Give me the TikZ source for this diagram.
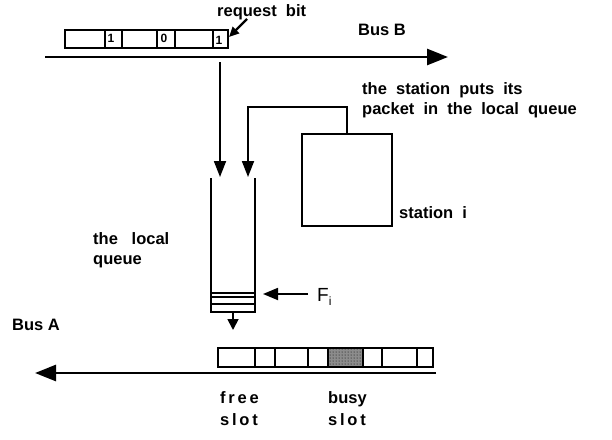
\documentclass[tikz,border=0pt]{standalone}
\usepackage{fontspec}
\setmainfont{Liberation Sans}
\usetikzlibrary{arrows.meta,patterns}
\begin{document}
\begin{tikzpicture}[x=1pt,y=-1pt,
  lbl/.style={font=\fontsize{16.5}{20}\selectfont\bfseries, inner sep=0pt, align=left},
  bit/.style={font=\fontsize{12}{12}\selectfont\bfseries, inner sep=0pt},
  bus/.style={line width=2.6pt, -{Triangle[length=21pt,width=16pt]}},
  arr/.style={line width=1.8pt, -{Triangle[length=16pt,width=12pt]}},
  box/.style={draw, line width=1.8pt},
  cell/.style={line width=1.6pt}]
\useasboundingbox (0,0) rectangle (612,439);

% ---- Bus B ----
\coordinate (bbS) at (45,57);
\coordinate (bbE) at (448,57);
\draw[bus] (bbS) -- (bbE);
\node[lbl, anchor=west] (busB) at (358,30) {Bus B};

% request bits
\draw[cell] (65,30) rectangle (228,48);
\foreach \x in {105,122,157,175,213} \draw[cell] (\x,30) -- (\x,48);
\node[bit] (b1) at (111,38) {1};
\node[bit] (b2) at (164,38) {0};
\node[bit] (b3) at (219,40) {1};
\node[lbl, anchor=west] (req) at (217,12) {request\ \ bit};
\coordinate (reqTip) at (229,37);
\draw[line width=2.4pt, -{Triangle[length=10pt,width=9pt]}] (247,19) -- (reqTip);

% ---- station ----
\node[box, minimum width=90pt, minimum height=92pt, inner sep=0pt, anchor=north west] (st) at (301,133) {};
\node[lbl, anchor=west] (stl) at (399,213) {station\ \ i};
\node[lbl, anchor=west] (puts) at (362,100) {the\ \ station\ \ puts\ \ its\\packet\ \ in\ \ the\ \ local\ \ queue};

% ---- queue ----
\coordinate (qTL) at (211,178);
\coordinate (qTR) at (255,178);
\coordinate (qBL) at (211,312);
\coordinate (qBR) at (255,312);
\draw[line width=1.8pt] (qTL) -- (qBL) -- (qBR) -- (qTR);
\draw[line width=1.5pt] (211,293) -- (255,293) (211,297) -- (255,297) (211,304) -- (255,304);
\node[lbl, anchor=west] (lq) at (93,250) {the\ \ \ local\\queue};

% arrows into queue
\coordinate (a1s) at (220,62);
\coordinate (a1e) at (220,177);
\draw[arr] (a1s) -- (a1e);
\coordinate (a2e) at (248,177);
\draw[arr] (st.north -| 347,133) -- (347,107) -- (248,107) -- (a2e);

% F_i
\node[font=\fontsize{19}{19}\selectfont, inner sep=0pt, anchor=west] (F) at (317,297) {F\raisebox{-4pt}{\fontsize{12}{12}\selectfont i}};
\draw[line width=1.8pt, -{Triangle[length=15pt,width=12pt]}] (308,294) -- (263,294);

% queue output arrow
\coordinate (qOut) at (233,330);
\draw[line width=1.8pt, -{Triangle[length=11pt,width=11pt]}] (233,312) -- (qOut);

% ---- Bus A ----
\fill[black!45] (328,348) rectangle (363,367);
\fill[pattern=dots, pattern color=black] (328,348) rectangle (363,367);
\draw[cell] (218,348) rectangle (433,367);
\foreach \x in {255,275,308,328,363,382,417} \draw[cell] (\x,348) -- (\x,367);
\coordinate (baS) at (436,373);
\coordinate (baE) at (35,373);
\draw[bus] (baS) -- (baE);
\node[lbl, anchor=west] (busA) at (12,325) {Bus A};
\node[lbl, anchor=north west, font=\fontsize{16.5}{22}\selectfont\bfseries] (free) at (220,391) {f\,r\,e\,e\\s\,l\,o\,t};
\node[lbl, anchor=north west, font=\fontsize{16.5}{22}\selectfont\bfseries] (busy) at (328,391) {busy\\s\,l\,o\,t};
\end{tikzpicture}
\end{document}
